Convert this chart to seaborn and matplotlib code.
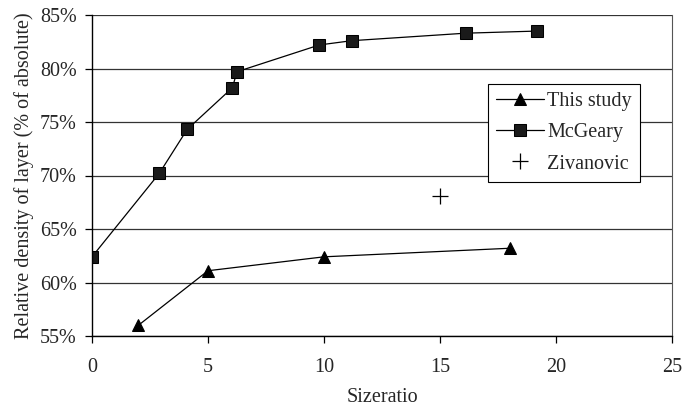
import matplotlib
matplotlib.use("Agg")
import matplotlib.pyplot as plt
import seaborn as sns
import pandas as pd
from matplotlib.ticker import FuncFormatter

this_x = [2, 5, 10, 18]
this_y = [56.0, 61.1, 62.4, 63.2]
mcg_x = [0, 2.9, 4.1, 6.05, 6.25, 9.8, 11.2, 16.1, 19.2]
mcg_y = [62.4, 70.2, 74.3, 78.2, 79.7, 82.2, 82.6, 83.3, 83.5]
ziv_x = [15]
ziv_y = [68.1]

sns.set_theme(style="white")
plt.rcParams['font.family'] = ['Liberation Serif', 'DejaVu Serif']

fig = plt.figure(figsize=(6.84, 4.09), dpi=100)
ax = fig.add_axes([92/684, 1-336/409, (672-92)/684, (336-15)/409])

df_t = pd.DataFrame({"x": this_x, "y": this_y})
df_m = pd.DataFrame({"x": mcg_x, "y": mcg_y})

sns.lineplot(data=df_t, x="x", y="y", ax=ax, color="black", lw=0.9,
             marker="^", markersize=8, markeredgecolor="black", label="This study")
sns.lineplot(data=df_m, x="x", y="y", ax=ax, color="black", lw=0.9,
             marker="s", markersize=8, markerfacecolor="#1a1a1a", markeredgecolor="black",
             label="McGeary", sort=False)
ax.plot(ziv_x, ziv_y, ls="none", marker="+", markersize=11, color="black", mew=0.9,
        label="Zivanovic")

ax.set_xlim(0, 25)
ax.set_ylim(55, 85)
ax.set_xticks([0, 5, 10, 15, 20, 25])
ax.set_yticks([55, 60, 65, 70, 75, 80, 85])
ax.yaxis.set_major_formatter(FuncFormatter(lambda v, p: f"{v:.0f}%"))
ax.grid(axis="y", color="#333333", lw=0.9)
ax.grid(axis="x", visible=False)
for s in ["left", "bottom"]:
    ax.spines[s].set_color("black")
    ax.spines[s].set_linewidth(1.0)
ax.spines["top"].set_visible(False)
ax.spines["right"].set_color("#555555")
ax.spines["right"].set_linewidth(0.8)
ax.spines["right"].set_linestyle((0, (2, 1)))
ax.tick_params(axis="y", which="major", direction="out", length=5, width=0.9,
               color="black", labelsize=14.5, pad=6, left=True)
ax.tick_params(axis="x", which="major", direction="out", length=5, width=0.9,
               color="black", labelsize=14.5, pad=11, bottom=True)
ax.set_xlabel("Sizeratio", fontsize=14.5, labelpad=8)
ax.set_ylabel("Relative density of layer (% of absolute)", fontsize=14.5, labelpad=4)

leg = ax.legend(loc="upper left", bbox_to_anchor=(396/580, (336-84)/321), fontsize=14.5,
                frameon=True, fancybox=False, edgecolor="black", framealpha=1,
                borderpad=0.4, labelspacing=0.6, handlelength=2.4, handletextpad=0.15,
                borderaxespad=0)
leg.get_frame().set_linewidth(0.8)

fig.savefig("out.png", dpi=100)
